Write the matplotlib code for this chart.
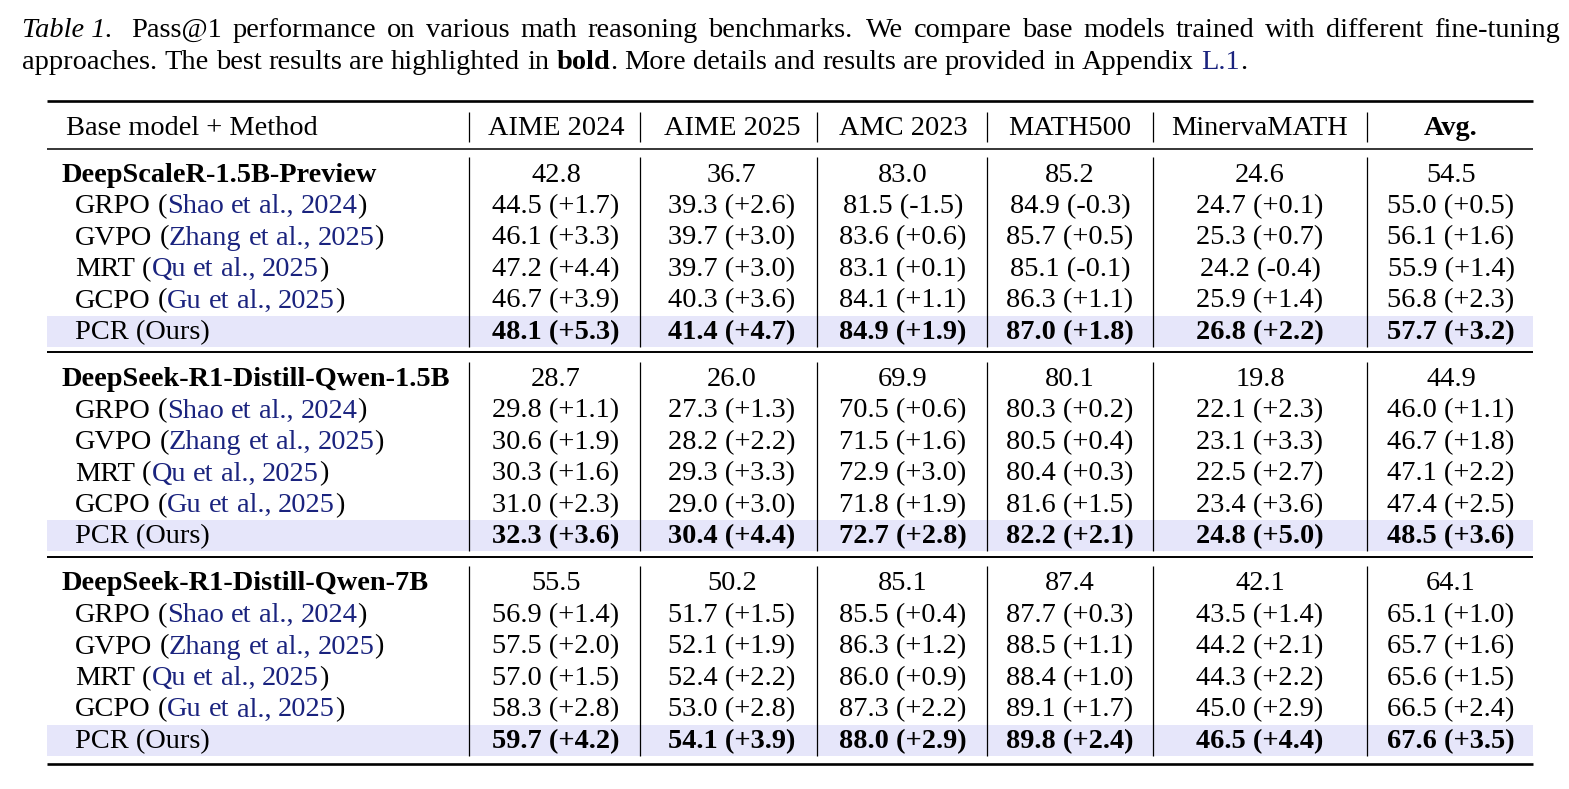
import matplotlib.pyplot as plt
from matplotlib.patches import Rectangle

plt.rcParams['font.family'] = ['Liberation Serif', 'DejaVu Serif']

# caption
caption_label = "Table 1."
caption_line1 = ("Pass@1 performance on various math reasoning benchmarks.  We compare base "
                 "models trained with different fine-tuning")
caption_line2 = [("approaches. The best results are highlighted in ", 'normal', 'black'),
                 ("bold", 'bold', 'black'),
                 (". More details and results are provided in Appendix ", 'normal', 'black'),
                 ("L.1", 'normal', '#1a237e'),
                 (".", 'normal', 'black')]

# table content
benchmarks = ["AIME 2024", "AIME 2025", "AMC 2023", "MATH500", "MinervaMATH", "Avg."]
base_models = ["DeepScaleR-1.5B-Preview", "DeepSeek-R1-Distill-Qwen-1.5B", "DeepSeek-R1-Distill-Qwen-7B"]
methods = ["GRPO", "GVPO", "MRT", "GCPO", "PCR (Ours)"]
citations = ["Shao et al., 2024", "Zhang et al., 2025", "Qu et al., 2025", "Gu et al., 2025", None]

base_scores = [
    [42.8, 36.7, 83.0, 85.2, 24.6, 54.5],
    [28.7, 26.0, 69.9, 80.1, 19.8, 44.9],
    [55.5, 50.2, 85.1, 87.4, 42.1, 64.1],
]
method_scores = [
    [[44.5, 39.3, 81.5, 84.9, 24.7, 55.0],
     [46.1, 39.7, 83.6, 85.7, 25.3, 56.1],
     [47.2, 39.7, 83.1, 85.1, 24.2, 55.9],
     [46.7, 40.3, 84.1, 86.3, 25.9, 56.8],
     [48.1, 41.4, 84.9, 87.0, 26.8, 57.7]],
    [[29.8, 27.3, 70.5, 80.3, 22.1, 46.0],
     [30.6, 28.2, 71.5, 80.5, 23.1, 46.7],
     [30.3, 29.3, 72.9, 80.4, 22.5, 47.1],
     [31.0, 29.0, 71.8, 81.6, 23.4, 47.4],
     [32.3, 30.4, 72.7, 82.2, 24.8, 48.5]],
    [[56.9, 51.7, 85.5, 87.7, 43.5, 65.1],
     [57.5, 52.1, 86.3, 88.5, 44.2, 65.7],
     [57.0, 52.4, 86.0, 88.4, 44.3, 65.6],
     [58.3, 53.0, 87.3, 89.1, 45.0, 66.5],
     [59.7, 54.1, 88.0, 89.8, 46.5, 67.6]],
]
# gains over the base model, as printed in the table
gains = [
    [[1.7, 2.6, -1.5, -0.3, 0.1, 0.5],
     [3.3, 3.0, 0.6, 0.5, 0.7, 1.6],
     [4.4, 3.0, 0.1, -0.1, -0.4, 1.4],
     [3.9, 3.6, 1.1, 1.1, 1.4, 2.3],
     [5.3, 4.7, 1.9, 1.8, 2.2, 3.2]],
    [[1.1, 1.3, 0.6, 0.2, 2.3, 1.1],
     [1.9, 2.2, 1.6, 0.4, 3.3, 1.8],
     [1.6, 3.3, 3.0, 0.3, 2.7, 2.2],
     [2.3, 3.0, 1.9, 1.5, 3.6, 2.5],
     [3.6, 4.4, 2.8, 2.1, 5.0, 3.6]],
    [[1.4, 1.5, 0.4, 0.3, 1.4, 1.0],
     [2.0, 1.9, 1.2, 1.1, 2.1, 1.6],
     [1.5, 2.2, 0.9, 1.0, 2.2, 1.5],
     [2.8, 2.8, 2.2, 1.7, 2.9, 2.4],
     [4.2, 3.9, 2.9, 2.4, 4.4, 3.5]],
]

FS = 20.4
CITE = '#1a237e'
HL = '#e6e6fa'
W, H = 1569, 789

fig = plt.figure(figsize=(W / 100, H / 100), dpi=100)
ax = fig.add_axes([0, 0, 1, 1])
ax.set_xlim(0, W)
ax.set_ylim(H, 0)
ax.axis('off')
renderer = fig.canvas.get_renderer()
space = FS * 100 / 72 * 0.25


def put(x, y, s, weight='normal', color='black', style='normal', ha='left'):
    t = ax.text(x, y, s, fontsize=FS, fontweight=weight, color=color,
                fontstyle=style, ha=ha, va='baseline')
    return t


def width(t):
    return t.get_window_extent(renderer).width


def put_runs(x, y, runs):
    for s, weight, color in runs:
        lead = len(s) - len(s.lstrip(' '))
        trail = len(s) - len(s.rstrip(' '))
        x += lead * space
        core = s.strip(' ')
        if core:
            words = core.split(' ')
            for i, w in enumerate(words):
                t = put(x, y, w, weight, color)
                x += width(t)
                if i < len(words) - 1:
                    x += space
        x += trail * space
    return x


# caption line 1, justified between left and right margin
cap_left, cap_right = 22, 1557
lbl = put(cap_left, 37, caption_label, style='italic')
items = [put(0, 37, w) for w in caption_line1.split(' ') if w]
total = sum(width(t) for t in items)
start = cap_left + width(lbl) + 2.6 * space
gap = (cap_right - start - total) / (len(items) - 1)
x = start
for t in items:
    t.set_x(x)
    x += width(t) + gap
    if t.get_text() == 'benchmarks.':
        x += 0.4 * space

# caption line 2
put_runs(cap_left, 69, caption_line2)

# table geometry
x_left, x_right = 47, 1533
col_centers = [556, 732, 903, 1070, 1260, 1451]
vlines = [469, 640, 817, 987, 1153, 1367]
header_y = 125
first_row_y = 172
row_step = 31.5
group_step = 204.5
base_off = 9.5


def hline(y, lw):
    ax.plot([x_left, x_right], [y, y], color='black', lw=lw, solid_capstyle='butt')


def vline_set(y0, y1):
    for vx in vlines:
        ax.plot([vx, vx], [y0, y1], color='black', lw=0.9, solid_capstyle='butt')


hline(101, 1.9)
hline(149, 1.1)

put(66, header_y + base_off, "Base model + Method")
for j, name in enumerate(benchmarks):
    put(col_centers[j], header_y + base_off, name,
        weight='bold' if name == 'Avg.' else 'normal', ha='center')
vline_set(header_y - 13, header_y + 17)

for g, model in enumerate(base_models):
    gy = first_row_y + g * group_step
    last_y = gy + len(methods) * row_step
    # highlight for our method
    ax.add_patch(Rectangle((x_left, last_y - 14), x_right - x_left, 31,
                           facecolor=HL, edgecolor='none', zorder=0))
    put(61, gy + base_off, model, weight='bold')
    for j, v in enumerate(base_scores[g]):
        put(col_centers[j], gy + base_off, f"{v:.1f}", ha='center')
    for i, m in enumerate(methods):
        ry = gy + (i + 1) * row_step
        if citations[i]:
            put_runs(75, ry + base_off, [(m + " (", 'normal', 'black'),
                                         (citations[i], 'normal', CITE),
                                         (")", 'normal', 'black')])
        else:
            put(75, ry + base_off, m)
        is_ours = i == len(methods) - 1
        for j, v in enumerate(method_scores[g][i]):
            put(col_centers[j], ry + base_off, f"{v:.1f} ({gains[g][i][j]:+.1f})",
                weight='bold' if is_ours else 'normal', ha='center')
    vline_set(gy - 15, last_y + 17)
    if g < len(base_models) - 1:
        hline(last_y + 22.5, 1.4)
    else:
        hline(last_y + 25, 1.9)

fig.savefig('out.png', dpi=100)
